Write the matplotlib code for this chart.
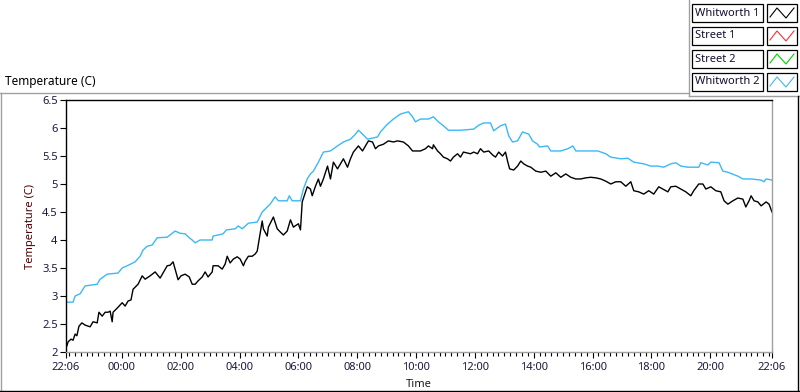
import numpy as np
import matplotlib
matplotlib.use("Agg")
import matplotlib.pyplot as plt
from matplotlib.lines import Line2D
from matplotlib.patches import Rectangle

plt.rcParams['font.family'] = ['Noto Sans', 'DejaVu Sans']

# hours elapsed since 22:06 / temperature (C)
w2_hours = [0.03, 0.24, 0.31, 0.48, 0.65, 1.06, 1.16, 1.40, 1.77, 1.91, 2.08, 2.35, 2.52, 2.62,
            2.76, 2.93, 3.10, 3.44, 3.71, 3.88, 4.05, 4.19, 4.29, 4.39, 4.56, 4.97, 5.00, 5.34,
            5.45, 5.75, 5.86, 5.99, 6.20, 6.50, 6.67, 6.84, 6.94, 7.11, 7.22, 7.52, 7.59, 7.69,
            7.97, 8.07, 8.20, 8.31, 8.41, 8.58, 8.75, 8.99, 9.23, 9.43, 9.67, 9.84, 9.94, 10.08,
            10.25, 10.59, 10.69, 10.93, 11.13, 11.37, 11.64, 11.78, 11.88, 12.05, 12.32, 12.49,
            12.66, 12.83, 13.00, 13.41, 13.86, 14.03, 14.20, 14.43, 14.54, 14.77, 14.94, 15.05,
            15.18, 15.35, 15.52, 15.73, 15.86, 16.03, 16.10, 16.37, 16.48, 16.82, 17.06, 17.23,
            17.33, 18.08, 18.35, 18.52, 18.86, 19.10, 19.30, 19.64, 19.88, 20.12, 20.32, 20.56,
            20.73, 20.90, 21.14, 21.51, 21.58, 21.82, 21.92, 22.20, 22.33, 22.50, 22.84, 23.01,
            23.29, 23.63, 23.73, 23.80, 24.00]
w2_temp = [2.89, 2.89, 3.00, 3.04, 3.18, 3.21, 3.30, 3.39, 3.41, 3.50, 3.54, 3.61, 3.71, 3.82,
           3.89, 3.91, 4.04, 4.05, 4.16, 4.12, 4.11, 4.04, 4.00, 3.95, 4.00, 4.00, 4.07, 4.11,
           4.18, 4.20, 4.25, 4.20, 4.30, 4.32, 4.50, 4.59, 4.64, 4.77, 4.70, 4.70, 4.79, 4.70,
           4.70, 4.91, 5.09, 5.18, 5.23, 5.39, 5.57, 5.59, 5.68, 5.75, 5.80, 5.89, 5.96, 5.89,
           5.80, 5.84, 5.93, 6.07, 6.16, 6.25, 6.29, 6.20, 6.11, 6.16, 6.16, 6.20,
           6.11, 6.04, 5.96, 5.96, 5.98, 6.05, 6.09, 6.09, 5.95, 6.04, 6.07, 5.86,
           5.75, 5.77, 5.93, 5.89, 5.77, 5.71, 5.66, 5.68, 5.59, 5.59, 5.63, 5.68,
           5.59, 5.59, 5.54, 5.48, 5.45, 5.46, 5.39, 5.36, 5.32, 5.32, 5.30, 5.36,
           5.38, 5.32, 5.30, 5.30, 5.38, 5.34, 5.39, 5.38, 5.23, 5.21, 5.14, 5.09,
           5.09, 5.07, 5.04, 5.09, 5.07]

w1_hours = [0.03, 0.07, 0.17, 0.24, 0.31, 0.37, 0.44, 0.54, 0.65, 0.82, 0.92, 1.06, 1.12, 1.23,
            1.33, 1.43, 1.50, 1.57, 1.60, 1.77, 1.91, 2.01, 2.11, 2.21, 2.28, 2.45, 2.59, 2.69,
            2.86, 3.03, 3.20, 3.44, 3.54, 3.64, 3.71, 3.81, 3.91, 4.05, 4.19, 4.29, 4.39, 4.49,
            4.63, 4.73, 4.83, 4.97, 5.00, 5.17, 5.31, 5.41, 5.48, 5.58, 5.69, 5.82, 5.92, 6.03,
            6.09, 6.20, 6.33, 6.43, 6.50, 6.57, 6.67, 6.71, 6.84, 6.88, 7.05, 7.18, 7.29, 7.39,
            7.52, 7.63, 7.73, 7.90, 7.97, 8.03, 8.10, 8.20, 8.31, 8.37, 8.48, 8.58, 8.65, 8.75,
            8.89, 8.99, 9.09, 9.23, 9.33, 9.43, 9.57, 9.67, 9.77, 9.94, 10.08, 10.18, 10.28,
            10.42, 10.52, 10.62, 10.79, 10.96, 11.13, 11.27, 11.47, 11.64, 11.78, 12.05, 12.22,
            12.32, 12.46, 12.49, 12.63, 12.73, 12.83, 12.97, 13.07, 13.17, 13.31, 13.41, 13.51,
            13.75, 13.86, 13.99, 14.09, 14.20, 14.37, 14.50, 14.60, 14.71, 14.84, 14.94, 15.01,
            15.08, 15.22, 15.35, 15.46, 15.56, 15.69, 15.80, 15.97, 16.14, 16.31, 16.48, 16.65,
            16.82, 16.99, 17.16, 17.33, 17.50, 17.67, 17.84, 18.01, 18.18, 18.35, 18.52, 18.69,
            18.86, 19.03, 19.20, 19.30, 19.47, 19.64, 19.81, 19.98, 20.15, 20.32, 20.46, 20.56,
            20.73, 20.90, 21.07, 21.24, 21.34, 21.51, 21.65, 21.75, 21.92, 22.09, 22.26, 22.37,
            22.50, 22.67, 22.84, 23.01, 23.11, 23.22, 23.29, 23.39, 23.52, 23.63, 23.80, 23.90,
            24.00]
w1_temp = [2.11, 2.18, 2.23, 2.21, 2.32, 2.29, 2.46, 2.52, 2.48, 2.45, 2.54, 2.52, 2.71, 2.64,
           2.71, 2.71, 2.73, 2.54, 2.71, 2.80, 2.88, 2.82, 2.91, 2.93, 3.12, 3.21, 3.36, 3.30,
           3.36, 3.43, 3.32, 3.54, 3.55, 3.61, 3.48, 3.29, 3.36, 3.39, 3.34, 3.21, 3.21, 3.27,
           3.34, 3.43, 3.34, 3.43, 3.54, 3.54, 3.48, 3.57, 3.71, 3.59, 3.66, 3.70, 3.66, 3.54,
           3.62, 3.71, 3.71, 3.75, 3.80, 4.02, 4.34, 4.20, 4.07, 4.23, 4.41, 4.20, 4.14, 4.09,
           4.16, 4.36, 4.23, 4.29, 4.18, 4.68, 4.79, 4.95, 4.91, 4.79, 4.96, 5.09, 4.96, 5.09,
           5.32, 5.09, 5.39, 5.27, 5.36, 5.45, 5.30, 5.45, 5.57, 5.68, 5.59, 5.68, 5.77,
           5.75, 5.63, 5.68, 5.71, 5.77, 5.75, 5.77, 5.75, 5.68, 5.59, 5.59, 5.63,
           5.68, 5.63, 5.70, 5.59, 5.54, 5.48, 5.45, 5.41, 5.48, 5.54, 5.48, 5.57,
           5.54, 5.57, 5.54, 5.63, 5.57, 5.59, 5.52, 5.48, 5.57, 5.50, 5.57, 5.41,
           5.27, 5.25, 5.32, 5.41, 5.36, 5.32, 5.30, 5.23, 5.21, 5.23, 5.14, 5.20,
           5.12, 5.18, 5.12, 5.09, 5.09, 5.11, 5.12, 5.11, 5.09, 5.05, 5.00, 5.04,
           5.04, 4.96, 5.04, 4.88, 4.86, 4.82, 4.88, 4.82, 4.95, 4.90, 4.86, 4.95,
           4.96, 4.91, 4.86, 4.79, 4.88, 5.00, 5.00, 4.91, 4.95, 4.88, 4.86, 4.70,
           4.64, 4.70, 4.75, 4.73, 4.59, 4.70, 4.79, 4.70, 4.68, 4.61, 4.68, 4.64,
           4.50]

legend_names = ["Whitworth 1", "Street 1", "Street 2", "Whitworth 2"]
legend_colors = ["#000000", "#ff3030", "#00d000", "#3cb8f5"]

start_clock = 22.1  # 22:06
major_hours = [0, 1.9, 3.9, 5.9, 7.9, 9.9, 11.9, 13.9, 15.9, 17.9, 19.9, 21.9, 24]


def clock_label(h):
    t = (start_clock + h) % 24
    mins = int(round(t * 60)) % 1440
    return "%02d:%02d" % (mins // 60, mins % 60)


W, H = 800, 392
fig = plt.figure(figsize=(8, 3.92), dpi=100)
fig.patch.set_facecolor("white")


def fx(px):
    return px / W


def fy(py):
    return 1 - py / H


ax = fig.add_axes([fx(66), fy(352), fx(772) - fx(66), fy(100) - fy(352)])
ax.plot(w2_hours, w2_temp, color="#3cb8f5", lw=1.0)
ax.plot(w1_hours, w1_temp, color="black", lw=1.0)
ax.set_xlim(0, 24)
ax.set_ylim(2, 6.5)

ax.set_yticks(np.arange(2, 6.51, 0.5))
ax.set_yticklabels(["%g" % v for v in np.arange(2, 6.51, 0.5)])
ax.set_xticks(major_hours)
ax.set_xticklabels([clock_label(h) for h in major_hours])
minor = [m for m in np.arange(0.1, 24, 0.2) if min(abs(m - j) for j in major_hours) > 0.05]
ax.set_xticks(minor, minor=True)

ax.tick_params(axis="both", which="major", length=4.5, width=0.8, labelsize=8,
               colors="black", pad=1.5)
ax.tick_params(axis="x", which="major", pad=3)
ax.tick_params(axis="x", which="minor", length=3, width=0.8, color="black")
for lbl in ax.get_xticklabels() + ax.get_yticklabels():
    lbl.set_color("#1a1a40")

for s in ["left", "top"]:
    ax.spines[s].set_color("black")
    ax.spines[s].set_linewidth(1.0)
for s in ["right", "bottom"]:
    ax.spines[s].set_color("#a0a0a0")
    ax.spines[s].set_linewidth(1.0)

ax.set_ylabel("Temperature (C)", fontsize=8, color="#500000", labelpad=4)
ax.set_xlabel("Time", fontsize=8, color="#1a1a1a", labelpad=4)

fig.text(fx(5), fy(81), "Temperature (C)", fontsize=8.5, ha="left", va="center")

# panel frame lines
fig.add_artist(Line2D([fx(0), fx(689)], [fy(92.5), fy(92.5)], color="#a0a0a0", lw=1))
fig.add_artist(Line2D([fx(1), fx(1)], [fy(92.5), fy(391)], color="#a0a0a0", lw=1))
fig.add_artist(Line2D([fx(689), fx(689)], [fy(0), fy(96)], color="#a0a0a0", lw=1))
fig.add_artist(Line2D([fx(689), fx(800)], [fy(96), fy(96)], color="#a0a0a0", lw=1))
fig.add_artist(Line2D([fx(0), fx(800)], [fy(391), fy(391)], color="black", lw=1))
fig.add_artist(Line2D([fx(798), fx(798)], [fy(96), fy(391)], color="black", lw=1))

# legend
for i, (name, col) in enumerate(zip(legend_names, legend_colors)):
    top = 4 + i * 23
    fig.add_artist(Rectangle((fx(692), fy(top + 18)), fx(763) - fx(692), fy(top) - fy(top + 18),
                             facecolor="white", edgecolor="black", lw=0.9))
    fig.add_artist(Rectangle((fx(767), fy(top + 18)), fx(797) - fx(767), fy(top) - fy(top + 18),
                             facecolor="white", edgecolor="black", lw=0.9))
    fig.text(fx(695), fy(top + 9), name, fontsize=8, ha="left", va="center", color="#101030")
    zx = [770, 777, 786, 794]
    zy = [top + 13, top + 4, top + 14, top + 4]
    fig.add_artist(Line2D([fx(v) for v in zx], [fy(v) for v in zy], color=col, lw=0.8))

fig.savefig("out.png", dpi=100)
